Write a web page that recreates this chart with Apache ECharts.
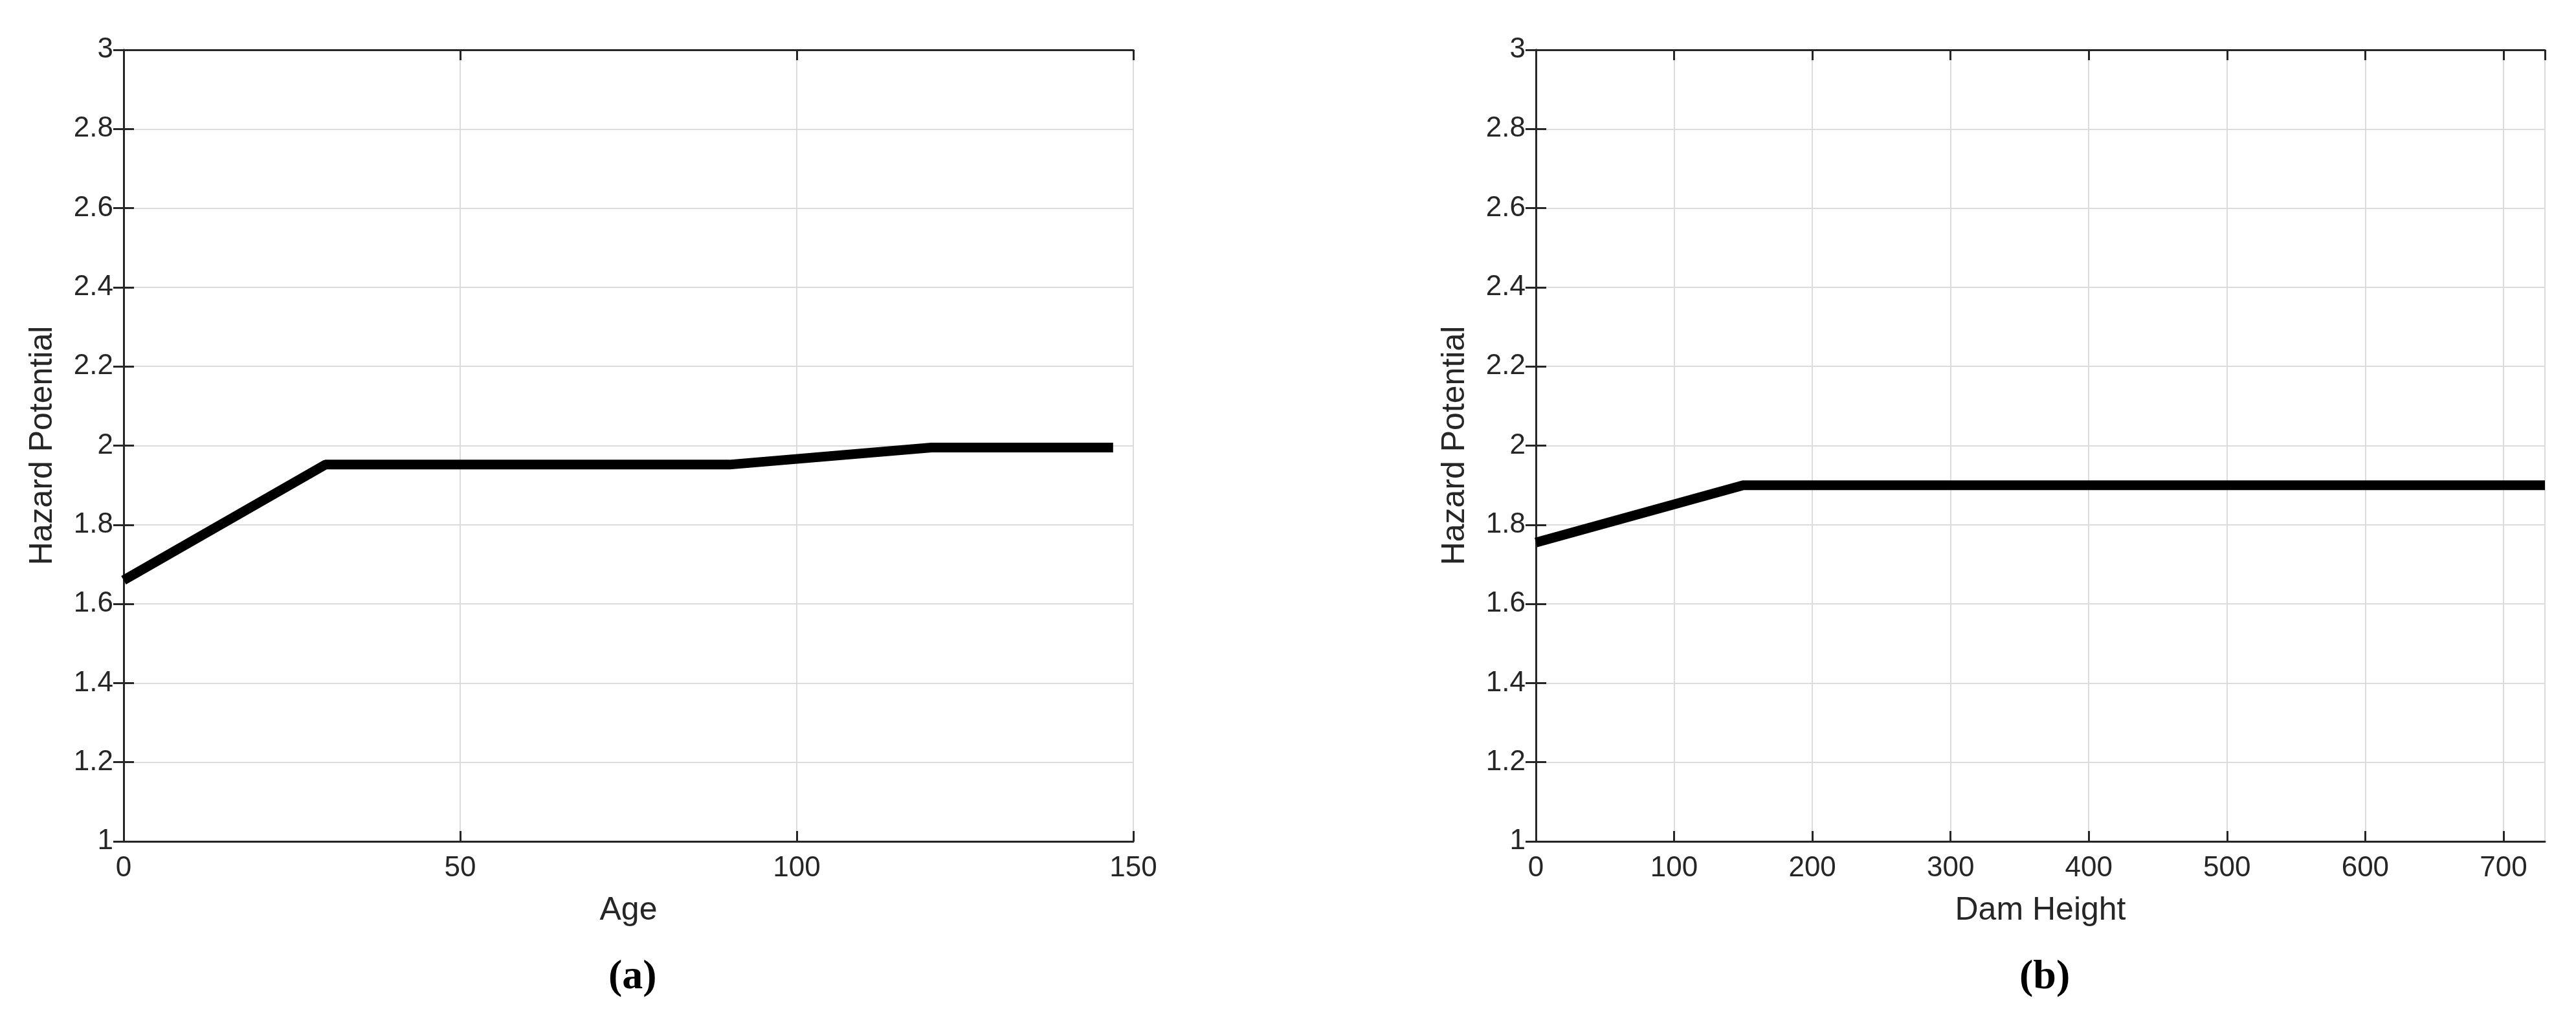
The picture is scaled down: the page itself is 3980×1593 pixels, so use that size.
<!DOCTYPE html>
<html><head><meta charset="utf-8">
<script src="https://cdn.jsdelivr.net/npm/echarts@6/dist/echarts.min.js"></script>
<style>html,body{margin:0;padding:0;background:#fff}#c{width:3980px;height:1593px}</style>
</head><body><div id="c"></div>
<script>
const ageX=[0,30,90,120,147];
const ageY=[1.66,1.952,1.952,1.995,1.995];
const damX=[0,150,730];
const damY=[1.755,1.9,1.9];
const yTicks=['1','1.2','1.4','1.6','1.8','2','2.2','2.4','2.6','2.8','3'];

const chart=echarts.init(document.getElementById('c'));
const font='Liberation Sans, Arial, sans-serif';
const tc='#262626';
function xa(gi,max,interval,name,pos,showMax){
  const main=pos==='bottom';
  return {type:'value',gridIndex:gi,min:0,max:max,interval:interval,position:pos,
    name:main?name:'',nameLocation:'middle',nameGap:82,
    nameTextStyle:{fontFamily:font,fontSize:50,color:tc},
    axisLine:{show:true,onZero:false,lineStyle:{color:tc,width:3}},
    axisTick:{show:true,inside:true,length:16,lineStyle:{color:tc,width:3}},
    axisLabel:{show:main,fontFamily:font,fontSize:44,color:tc,margin:20,showMaxLabel:showMax},
    splitLine:{show:main,lineStyle:{color:'#dcdcdc',width:2}}};
}
function ya(gi,pos){
  const main=pos==='left';
  return {type:'value',gridIndex:gi,min:1,max:3,interval:0.2,position:pos,
    name:main?'Hazard Potential':'',nameLocation:'middle',nameGap:100,
    nameTextStyle:{fontFamily:font,fontSize:50,color:tc},
    axisLine:{show:true,lineStyle:{color:tc,width:3}},
    axisTick:{show:true,inside:true,length:16,lineStyle:{color:tc,width:3}},
    axisLabel:{show:main,fontFamily:font,fontSize:44,color:tc,margin:16,
      formatter:v=>yTicks[Math.round((v-1)/0.2)]},
    splitLine:{show:main,lineStyle:{color:'#dcdcdc',width:2}}};
}
chart.setOption({
  animation:false,
  grid:[{left:191,top:77,width:1560,height:1223},{left:2373,top:77,width:1559,height:1223}],
  xAxis:[xa(0,150,50,'Age','bottom',true),xa(0,150,50,'','top',true),xa(1,730,100,'Dam Height','bottom',false),xa(1,730,100,'','top',false)],
  yAxis:[ya(0,'left'),ya(0,'right'),ya(1,'left'),ya(1,'right')],
  graphic:[
    {type:'text',left:940,top:1478,style:{text:'(a)',font:'bold 64px "Liberation Serif", serif',fill:'#000'}},
    {type:'text',left:3120,top:1478,style:{text:'(b)',font:'bold 64px "Liberation Serif", serif',fill:'#000'}}
  ],
  series:[
    {type:'line',xAxisIndex:0,yAxisIndex:0,data:ageX.map((x,i)=>[x,ageY[i]]),symbol:'none',lineStyle:{color:'#000',width:15}},
    {type:'line',xAxisIndex:2,yAxisIndex:2,data:damX.map((x,i)=>[x,damY[i]]),symbol:'none',lineStyle:{color:'#000',width:15}}
  ]
});
</script></body></html>
